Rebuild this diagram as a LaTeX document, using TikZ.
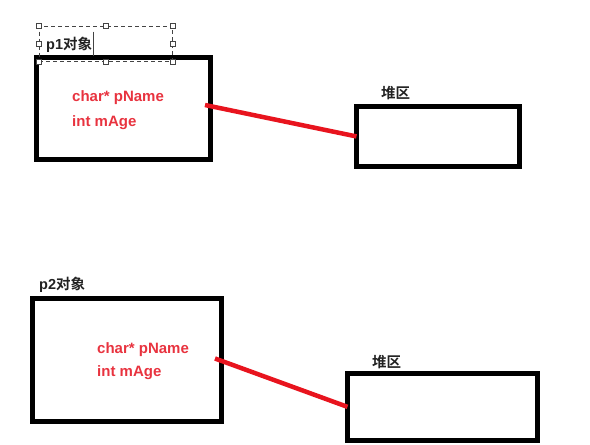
\documentclass[tikz,border=0pt]{standalone}
\usepackage{fontspec}
\setmainfont{Liberation Sans}
\newfontfamily\cjk{Noto Sans CJK SC}[BoldFont={Noto Sans CJK SC Bold}]
\usepackage{xcolor}
\usetikzlibrary{positioning}
\definecolor{ink}{HTML}{222222}
\definecolor{field}{HTML}{E8333F}
\definecolor{pointer}{HTML}{E8141E}
\definecolor{handle}{HTML}{444444}

\begin{document}
\begin{tikzpicture}[x=1pt,y=-1pt,every node/.style={font=\bfseries\fontsize{14.5}{17}\selectfont},
    objbox/.style={draw=black,line width=5pt,inner sep=0pt,outer sep=0pt,anchor=north west},
    caption/.style={text=ink,anchor=west,inner sep=0pt},
    member/.style={text=field,anchor=west,inner sep=0pt,font=\bfseries\fontsize{15}{17}\selectfont},
    ptr/.style={draw=pointer,line width=4.5pt},
    grip/.style={draw=handle,fill=white,line width=.8pt,minimum size=5pt,inner sep=0pt}]
    \useasboundingbox (0,0) rectangle (590,445);
    % p1
    \node[objbox,minimum width=174.5pt,minimum height=102.5pt] (objA) at (36,57) {};
    \node[objbox,minimum width=162.5pt,minimum height=59.5pt] (heapA) at (356.5,106.7) {};
    \node[caption] (nameA) at (46,45) {p1{\cjk 对象}};
    \node[caption] (heapAlbl) at (381,93) {\cjk 堆区};
    \node[member] (fieldA1) at (72,97.5) {char* pName};
    \node[member] (fieldA2) at (72,122.5) {int mAge};
    \coordinate (ptrA) at (205,105);
    \draw[ptr] (ptrA) -- (heapA.west);
    % selection frame round the p1 label
    \node[draw=handle,dashed,dash pattern=on 4pt off 3pt,line width=.7pt,inner sep=0pt,outer sep=0pt,minimum width=133.4pt,minimum height=35.7pt,anchor=north west] (frame) at (39.3,26) {};
    \foreach \a in {north west,north,north east,east,south east,south,south west,west}
      \node[grip] at (frame.\a) {};
    \draw[handle,line width=.6pt] (93.3,31.7) -- (93.3,55.7);
    % p2
    \node[objbox,minimum width=189pt,minimum height=122.7pt] (objB) at (32.5,298.8) {};
    \node[objbox,minimum width=190pt,minimum height=66.7pt] (heapB) at (347.5,373.5) {};
    \node[caption] (nameB) at (39,285) {p2{\cjk 对象}};
    \node[caption] (heapBlbl) at (372,362) {\cjk 堆区};
    \node[member] (fieldB1) at (97,349.5) {char* pName};
    \node[member] (fieldB2) at (97,372.5) {int mAge};
    \coordinate (ptrB) at (215,358.5);
    \draw[ptr] (ptrB) -- (heapB.west);
  \end{tikzpicture}
\end{document}
